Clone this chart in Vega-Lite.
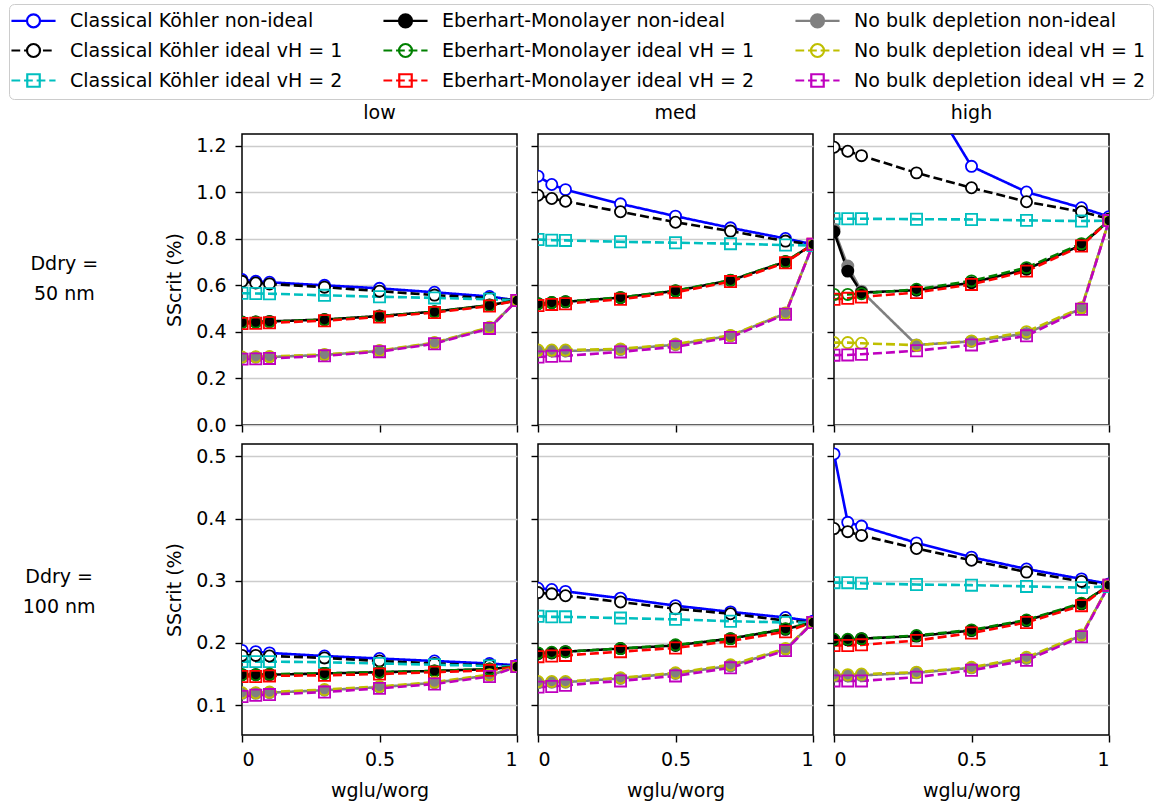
{
"$schema": "https://vega.github.io/schema/vega-lite/v6.json",
"padding": {"left": 8, "top": 3, "right": 2, "bottom": 2},
"background": "white",
"config": {
  "font": "DejaVu Sans",
  "view": {"stroke": "black", "strokeWidth": 1.5},
  "axis": {"labelFont": "DejaVu Sans", "labelFontSize": 19, "labelColor": "black", "titleFont": "DejaVu Sans", "titleFontSize": 19, "titleFontWeight": "normal", "titleColor": "black", "tickColor": "black", "tickSize": 7, "tickWidth": 1.4, "domain": false, "grid": false},
  "axisY": {"grid": true, "gridColor": "#cccccc", "gridWidth": 1.5, "labelPadding": 9, "titlePadding": 11},
  "axisX": {"labelPadding": 8, "titlePadding": 12, "labelFlush": true},
  "title": {"font": "DejaVu Sans", "fontWeight": "normal", "color": "black", "fontSize": 19},
  "legend": {"labelLimit": 600}
},
"datasets": {"pts": [
{"p":"low50","s":"a","x":0,"y":0.625},{"p":"low50","s":"a","x":0.05,"y":0.617},{"p":"low50","s":"a","x":0.1,"y":0.613},{"p":"low50","s":"a","x":0.3,"y":0.600},{"p":"low50","s":"a","x":0.5,"y":0.587},{"p":"low50","s":"a","x":0.7,"y":0.570},{"p":"low50","s":"a","x":0.9,"y":0.552},{"p":"low50","s":"a","x":1,"y":0.535},
{"p":"low50","s":"b","x":0,"y":0.617},{"p":"low50","s":"b","x":0.05,"y":0.610},{"p":"low50","s":"b","x":0.1,"y":0.606},{"p":"low50","s":"b","x":0.3,"y":0.592},{"p":"low50","s":"b","x":0.5,"y":0.575},{"p":"low50","s":"b","x":0.7,"y":0.558},{"p":"low50","s":"b","x":0.9,"y":0.545},{"p":"low50","s":"b","x":1,"y":0.535},
{"p":"low50","s":"c","x":0,"y":0.566},{"p":"low50","s":"c","x":0.05,"y":0.565},{"p":"low50","s":"c","x":0.1,"y":0.564},{"p":"low50","s":"c","x":0.3,"y":0.557},{"p":"low50","s":"c","x":0.5,"y":0.551},{"p":"low50","s":"c","x":0.7,"y":0.546},{"p":"low50","s":"c","x":0.9,"y":0.540},{"p":"low50","s":"c","x":1,"y":0.535},
{"p":"low50","s":"d","x":0,"y":0.290},{"p":"low50","s":"d","x":0.05,"y":0.291},{"p":"low50","s":"d","x":0.1,"y":0.292},{"p":"low50","s":"d","x":0.3,"y":0.301},{"p":"low50","s":"d","x":0.5,"y":0.318},{"p":"low50","s":"d","x":0.7,"y":0.352},{"p":"low50","s":"d","x":0.9,"y":0.418},{"p":"low50","s":"d","x":1,"y":0.535},
{"p":"low50","s":"e","x":0,"y":0.442},{"p":"low50","s":"e","x":0.05,"y":0.443},{"p":"low50","s":"e","x":0.1,"y":0.445},{"p":"low50","s":"e","x":0.3,"y":0.453},{"p":"low50","s":"e","x":0.5,"y":0.468},{"p":"low50","s":"e","x":0.7,"y":0.487},{"p":"low50","s":"e","x":0.9,"y":0.515},{"p":"low50","s":"e","x":1,"y":0.535},
{"p":"low50","s":"f","x":0,"y":0.441},{"p":"low50","s":"f","x":0.05,"y":0.442},{"p":"low50","s":"f","x":0.1,"y":0.444},{"p":"low50","s":"f","x":0.3,"y":0.452},{"p":"low50","s":"f","x":0.5,"y":0.467},{"p":"low50","s":"f","x":0.7,"y":0.486},{"p":"low50","s":"f","x":0.9,"y":0.514},{"p":"low50","s":"f","x":1,"y":0.535},
{"p":"low50","s":"g","x":0,"y":0.436},{"p":"low50","s":"g","x":0.05,"y":0.437},{"p":"low50","s":"g","x":0.1,"y":0.439},{"p":"low50","s":"g","x":0.3,"y":0.448},{"p":"low50","s":"g","x":0.5,"y":0.464},{"p":"low50","s":"g","x":0.7,"y":0.483},{"p":"low50","s":"g","x":0.9,"y":0.511},{"p":"low50","s":"g","x":1,"y":0.535},
{"p":"low50","s":"h","x":0,"y":0.292},{"p":"low50","s":"h","x":0.05,"y":0.293},{"p":"low50","s":"h","x":0.1,"y":0.294},{"p":"low50","s":"h","x":0.3,"y":0.303},{"p":"low50","s":"h","x":0.5,"y":0.320},{"p":"low50","s":"h","x":0.7,"y":0.354},{"p":"low50","s":"h","x":0.9,"y":0.420},{"p":"low50","s":"h","x":1,"y":0.535},
{"p":"low50","s":"i","x":0,"y":0.283},{"p":"low50","s":"i","x":0.05,"y":0.284},{"p":"low50","s":"i","x":0.1,"y":0.286},{"p":"low50","s":"i","x":0.3,"y":0.297},{"p":"low50","s":"i","x":0.5,"y":0.315},{"p":"low50","s":"i","x":0.7,"y":0.349},{"p":"low50","s":"i","x":0.9,"y":0.415},{"p":"low50","s":"i","x":1,"y":0.535},

{"p":"med50","s":"a","x":0,"y":1.069},{"p":"med50","s":"a","x":0.05,"y":1.033},{"p":"med50","s":"a","x":0.1,"y":1.011},{"p":"med50","s":"a","x":0.3,"y":0.950},{"p":"med50","s":"a","x":0.5,"y":0.897},{"p":"med50","s":"a","x":0.7,"y":0.847},{"p":"med50","s":"a","x":0.9,"y":0.801},{"p":"med50","s":"a","x":1,"y":0.776},
{"p":"med50","s":"b","x":0,"y":0.987},{"p":"med50","s":"b","x":0.05,"y":0.973},{"p":"med50","s":"b","x":0.1,"y":0.961},{"p":"med50","s":"b","x":0.3,"y":0.916},{"p":"med50","s":"b","x":0.5,"y":0.871},{"p":"med50","s":"b","x":0.7,"y":0.833},{"p":"med50","s":"b","x":0.9,"y":0.790},{"p":"med50","s":"b","x":1,"y":0.776},
{"p":"med50","s":"c","x":0,"y":0.797},{"p":"med50","s":"c","x":0.05,"y":0.794},{"p":"med50","s":"c","x":0.1,"y":0.793},{"p":"med50","s":"c","x":0.3,"y":0.787},{"p":"med50","s":"c","x":0.5,"y":0.783},{"p":"med50","s":"c","x":0.7,"y":0.779},{"p":"med50","s":"c","x":0.9,"y":0.773},{"p":"med50","s":"c","x":1,"y":0.771},
{"p":"med50","s":"d","x":0,"y":0.319},{"p":"med50","s":"d","x":0.05,"y":0.318},{"p":"med50","s":"d","x":0.1,"y":0.318},{"p":"med50","s":"d","x":0.3,"y":0.324},{"p":"med50","s":"d","x":0.5,"y":0.345},{"p":"med50","s":"d","x":0.7,"y":0.383},{"p":"med50","s":"d","x":0.9,"y":0.479},{"p":"med50","s":"d","x":1,"y":0.776},
{"p":"med50","s":"e","x":0,"y":0.521},{"p":"med50","s":"e","x":0.05,"y":0.526},{"p":"med50","s":"e","x":0.1,"y":0.529},{"p":"med50","s":"e","x":0.3,"y":0.547},{"p":"med50","s":"e","x":0.5,"y":0.576},{"p":"med50","s":"e","x":0.7,"y":0.621},{"p":"med50","s":"e","x":0.9,"y":0.701},{"p":"med50","s":"e","x":1,"y":0.776},
{"p":"med50","s":"f","x":0,"y":0.521},{"p":"med50","s":"f","x":0.05,"y":0.526},{"p":"med50","s":"f","x":0.1,"y":0.530},{"p":"med50","s":"f","x":0.3,"y":0.548},{"p":"med50","s":"f","x":0.5,"y":0.577},{"p":"med50","s":"f","x":0.7,"y":0.622},{"p":"med50","s":"f","x":0.9,"y":0.702},{"p":"med50","s":"f","x":1,"y":0.776},
{"p":"med50","s":"g","x":0,"y":0.513},{"p":"med50","s":"g","x":0.05,"y":0.518},{"p":"med50","s":"g","x":0.1,"y":0.521},{"p":"med50","s":"g","x":0.3,"y":0.540},{"p":"med50","s":"g","x":0.5,"y":0.570},{"p":"med50","s":"g","x":0.7,"y":0.616},{"p":"med50","s":"g","x":0.9,"y":0.697},{"p":"med50","s":"g","x":1,"y":0.776},
{"p":"med50","s":"h","x":0,"y":0.322},{"p":"med50","s":"h","x":0.05,"y":0.322},{"p":"med50","s":"h","x":0.1,"y":0.322},{"p":"med50","s":"h","x":0.3,"y":0.327},{"p":"med50","s":"h","x":0.5,"y":0.348},{"p":"med50","s":"h","x":0.7,"y":0.385},{"p":"med50","s":"h","x":0.9,"y":0.481},{"p":"med50","s":"h","x":1,"y":0.776},
{"p":"med50","s":"i","x":0,"y":0.292},{"p":"med50","s":"i","x":0.05,"y":0.295},{"p":"med50","s":"i","x":0.1,"y":0.297},{"p":"med50","s":"i","x":0.3,"y":0.314},{"p":"med50","s":"i","x":0.5,"y":0.336},{"p":"med50","s":"i","x":0.7,"y":0.376},{"p":"med50","s":"i","x":0.9,"y":0.476},{"p":"med50","s":"i","x":1,"y":0.776},

{"p":"high50","s":"a","x":0,"y":2.6},{"p":"high50","s":"a","x":0.05,"y":1.95},{"p":"high50","s":"a","x":0.1,"y":1.8},{"p":"high50","s":"a","x":0.3,"y":1.5},{"p":"high50","s":"a","x":0.5,"y":1.111},{"p":"high50","s":"a","x":0.7,"y":1.001},{"p":"high50","s":"a","x":0.9,"y":0.933},{"p":"high50","s":"a","x":1,"y":0.895},
{"p":"high50","s":"b","x":0,"y":1.193},{"p":"high50","s":"b","x":0.05,"y":1.176},{"p":"high50","s":"b","x":0.1,"y":1.157},{"p":"high50","s":"b","x":0.3,"y":1.083},{"p":"high50","s":"b","x":0.5,"y":1.019},{"p":"high50","s":"b","x":0.7,"y":0.959},{"p":"high50","s":"b","x":0.9,"y":0.916},{"p":"high50","s":"b","x":1,"y":0.885},
{"p":"high50","s":"c","x":0,"y":0.886},{"p":"high50","s":"c","x":0.05,"y":0.886},{"p":"high50","s":"c","x":0.1,"y":0.886},{"p":"high50","s":"c","x":0.3,"y":0.884},{"p":"high50","s":"c","x":0.5,"y":0.883},{"p":"high50","s":"c","x":0.7,"y":0.879},{"p":"high50","s":"c","x":0.9,"y":0.876},{"p":"high50","s":"c","x":1,"y":0.878},
{"p":"high50","s":"d","x":0,"y":0.84},{"p":"high50","s":"d","x":0.05,"y":0.683},{"p":"high50","s":"d","x":0.1,"y":0.575},{"p":"high50","s":"d","x":0.3,"y":0.344},{"p":"high50","s":"d","x":0.5,"y":0.359},{"p":"high50","s":"d","x":0.7,"y":0.393},{"p":"high50","s":"d","x":0.9,"y":0.501},{"p":"high50","s":"d","x":1,"y":0.878},
{"p":"high50","s":"e","x":0,"y":0.83},{"p":"high50","s":"e","x":0.05,"y":0.661},{"p":"high50","s":"e","x":0.1,"y":0.569},{"p":"high50","s":"e","x":0.3,"y":0.579},{"p":"high50","s":"e","x":0.5,"y":0.611},{"p":"high50","s":"e","x":0.7,"y":0.669},{"p":"high50","s":"e","x":0.9,"y":0.773},{"p":"high50","s":"e","x":1,"y":0.878},
{"p":"high50","s":"f","x":0,"y":0.561},{"p":"high50","s":"f","x":0.05,"y":0.561},{"p":"high50","s":"f","x":0.1,"y":0.564},{"p":"high50","s":"f","x":0.3,"y":0.583},{"p":"high50","s":"f","x":0.5,"y":0.619},{"p":"high50","s":"f","x":0.7,"y":0.676},{"p":"high50","s":"f","x":0.9,"y":0.779},{"p":"high50","s":"f","x":1,"y":0.878},
{"p":"high50","s":"g","x":0,"y":0.540},{"p":"high50","s":"g","x":0.05,"y":0.544},{"p":"high50","s":"g","x":0.1,"y":0.550},{"p":"high50","s":"g","x":0.3,"y":0.569},{"p":"high50","s":"g","x":0.5,"y":0.604},{"p":"high50","s":"g","x":0.7,"y":0.661},{"p":"high50","s":"g","x":0.9,"y":0.769},{"p":"high50","s":"g","x":1,"y":0.878},
{"p":"high50","s":"h","x":0,"y":0.354},{"p":"high50","s":"h","x":0.05,"y":0.354},{"p":"high50","s":"h","x":0.1,"y":0.351},{"p":"high50","s":"h","x":0.3,"y":0.343},{"p":"high50","s":"h","x":0.5,"y":0.361},{"p":"high50","s":"h","x":0.7,"y":0.401},{"p":"high50","s":"h","x":0.9,"y":0.504},{"p":"high50","s":"h","x":1,"y":0.878},
{"p":"high50","s":"i","x":0,"y":0.300},{"p":"high50","s":"i","x":0.05,"y":0.301},{"p":"high50","s":"i","x":0.1,"y":0.304},{"p":"high50","s":"i","x":0.3,"y":0.319},{"p":"high50","s":"i","x":0.5,"y":0.344},{"p":"high50","s":"i","x":0.7,"y":0.383},{"p":"high50","s":"i","x":0.9,"y":0.497},{"p":"high50","s":"i","x":1,"y":0.878},

{"p":"low100","s":"a","x":0,"y":0.188},{"p":"low100","s":"a","x":0.05,"y":0.186},{"p":"low100","s":"a","x":0.1,"y":0.184},{"p":"low100","s":"a","x":0.3,"y":0.179},{"p":"low100","s":"a","x":0.5,"y":0.175},{"p":"low100","s":"a","x":0.7,"y":0.171},{"p":"low100","s":"a","x":0.9,"y":0.167},{"p":"low100","s":"a","x":1,"y":0.164},
{"p":"low100","s":"b","x":0,"y":0.180},{"p":"low100","s":"b","x":0.05,"y":0.180},{"p":"low100","s":"b","x":0.1,"y":0.179},{"p":"low100","s":"b","x":0.3,"y":0.176},{"p":"low100","s":"b","x":0.5,"y":0.171},{"p":"low100","s":"b","x":0.7,"y":0.167},{"p":"low100","s":"b","x":0.9,"y":0.164},{"p":"low100","s":"b","x":1,"y":0.162},
{"p":"low100","s":"c","x":0,"y":0.170},{"p":"low100","s":"c","x":0.05,"y":0.170},{"p":"low100","s":"c","x":0.1,"y":0.170},{"p":"low100","s":"c","x":0.3,"y":0.169},{"p":"low100","s":"c","x":0.5,"y":0.167},{"p":"low100","s":"c","x":0.7,"y":0.165},{"p":"low100","s":"c","x":0.9,"y":0.163},{"p":"low100","s":"c","x":1,"y":0.162},
{"p":"low100","s":"d","x":0,"y":0.119},{"p":"low100","s":"d","x":0.05,"y":0.119},{"p":"low100","s":"d","x":0.1,"y":0.120},{"p":"low100","s":"d","x":0.3,"y":0.124},{"p":"low100","s":"d","x":0.5,"y":0.129},{"p":"low100","s":"d","x":0.7,"y":0.136},{"p":"low100","s":"d","x":0.9,"y":0.148},{"p":"low100","s":"d","x":1,"y":0.162},
{"p":"low100","s":"e","x":0,"y":0.149},{"p":"low100","s":"e","x":0.05,"y":0.149},{"p":"low100","s":"e","x":0.1,"y":0.149},{"p":"low100","s":"e","x":0.3,"y":0.151},{"p":"low100","s":"e","x":0.5,"y":0.153},{"p":"low100","s":"e","x":0.7,"y":0.155},{"p":"low100","s":"e","x":0.9,"y":0.158},{"p":"low100","s":"e","x":1,"y":0.162},
{"p":"low100","s":"f","x":0,"y":0.149},{"p":"low100","s":"f","x":0.05,"y":0.149},{"p":"low100","s":"f","x":0.1,"y":0.150},{"p":"low100","s":"f","x":0.3,"y":0.151},{"p":"low100","s":"f","x":0.5,"y":0.153},{"p":"low100","s":"f","x":0.7,"y":0.155},{"p":"low100","s":"f","x":0.9,"y":0.158},{"p":"low100","s":"f","x":1,"y":0.162},
{"p":"low100","s":"g","x":0,"y":0.146},{"p":"low100","s":"g","x":0.05,"y":0.146},{"p":"low100","s":"g","x":0.1,"y":0.147},{"p":"low100","s":"g","x":0.3,"y":0.148},{"p":"low100","s":"g","x":0.5,"y":0.150},{"p":"low100","s":"g","x":0.7,"y":0.153},{"p":"low100","s":"g","x":0.9,"y":0.156},{"p":"low100","s":"g","x":1,"y":0.162},
{"p":"low100","s":"h","x":0,"y":0.120},{"p":"low100","s":"h","x":0.05,"y":0.120},{"p":"low100","s":"h","x":0.1,"y":0.121},{"p":"low100","s":"h","x":0.3,"y":0.125},{"p":"low100","s":"h","x":0.5,"y":0.130},{"p":"low100","s":"h","x":0.7,"y":0.137},{"p":"low100","s":"h","x":0.9,"y":0.149},{"p":"low100","s":"h","x":1,"y":0.162},
{"p":"low100","s":"i","x":0,"y":0.114},{"p":"low100","s":"i","x":0.05,"y":0.116},{"p":"low100","s":"i","x":0.1,"y":0.117},{"p":"low100","s":"i","x":0.3,"y":0.121},{"p":"low100","s":"i","x":0.5,"y":0.127},{"p":"low100","s":"i","x":0.7,"y":0.134},{"p":"low100","s":"i","x":0.9,"y":0.146},{"p":"low100","s":"i","x":1,"y":0.162},

{"p":"med100","s":"a","x":0,"y":0.288},{"p":"med100","s":"a","x":0.05,"y":0.286},{"p":"med100","s":"a","x":0.1,"y":0.283},{"p":"med100","s":"a","x":0.3,"y":0.272},{"p":"med100","s":"a","x":0.5,"y":0.260},{"p":"med100","s":"a","x":0.7,"y":0.250},{"p":"med100","s":"a","x":0.9,"y":0.241},{"p":"med100","s":"a","x":1,"y":0.235},
{"p":"med100","s":"b","x":0,"y":0.281},{"p":"med100","s":"b","x":0.05,"y":0.279},{"p":"med100","s":"b","x":0.1,"y":0.276},{"p":"med100","s":"b","x":0.3,"y":0.266},{"p":"med100","s":"b","x":0.5,"y":0.255},{"p":"med100","s":"b","x":0.7,"y":0.247},{"p":"med100","s":"b","x":0.9,"y":0.236},{"p":"med100","s":"b","x":1,"y":0.233},
{"p":"med100","s":"c","x":0,"y":0.243},{"p":"med100","s":"c","x":0.05,"y":0.242},{"p":"med100","s":"c","x":0.1,"y":0.242},{"p":"med100","s":"c","x":0.3,"y":0.240},{"p":"med100","s":"c","x":0.5,"y":0.238},{"p":"med100","s":"c","x":0.7,"y":0.235},{"p":"med100","s":"c","x":0.9,"y":0.233},{"p":"med100","s":"c","x":1,"y":0.233},
{"p":"med100","s":"d","x":0,"y":0.136},{"p":"med100","s":"d","x":0.05,"y":0.137},{"p":"med100","s":"d","x":0.1,"y":0.137},{"p":"med100","s":"d","x":0.3,"y":0.143},{"p":"med100","s":"d","x":0.5,"y":0.151},{"p":"med100","s":"d","x":0.7,"y":0.163},{"p":"med100","s":"d","x":0.9,"y":0.190},{"p":"med100","s":"d","x":1,"y":0.233},
{"p":"med100","s":"e","x":0,"y":0.183},{"p":"med100","s":"e","x":0.05,"y":0.184},{"p":"med100","s":"e","x":0.1,"y":0.186},{"p":"med100","s":"e","x":0.3,"y":0.191},{"p":"med100","s":"e","x":0.5,"y":0.196},{"p":"med100","s":"e","x":0.7,"y":0.207},{"p":"med100","s":"e","x":0.9,"y":0.222},{"p":"med100","s":"e","x":1,"y":0.233},
{"p":"med100","s":"f","x":0,"y":0.184},{"p":"med100","s":"f","x":0.05,"y":0.185},{"p":"med100","s":"f","x":0.1,"y":0.186},{"p":"med100","s":"f","x":0.3,"y":0.191},{"p":"med100","s":"f","x":0.5,"y":0.197},{"p":"med100","s":"f","x":0.7,"y":0.207},{"p":"med100","s":"f","x":0.9,"y":0.223},{"p":"med100","s":"f","x":1,"y":0.233},
{"p":"med100","s":"g","x":0,"y":0.178},{"p":"med100","s":"g","x":0.05,"y":0.179},{"p":"med100","s":"g","x":0.1,"y":0.180},{"p":"med100","s":"g","x":0.3,"y":0.186},{"p":"med100","s":"g","x":0.5,"y":0.192},{"p":"med100","s":"g","x":0.7,"y":0.203},{"p":"med100","s":"g","x":0.9,"y":0.218},{"p":"med100","s":"g","x":1,"y":0.233},
{"p":"med100","s":"h","x":0,"y":0.138},{"p":"med100","s":"h","x":0.05,"y":0.138},{"p":"med100","s":"h","x":0.1,"y":0.138},{"p":"med100","s":"h","x":0.3,"y":0.144},{"p":"med100","s":"h","x":0.5,"y":0.152},{"p":"med100","s":"h","x":0.7,"y":0.165},{"p":"med100","s":"h","x":0.9,"y":0.191},{"p":"med100","s":"h","x":1,"y":0.233},
{"p":"med100","s":"i","x":0,"y":0.129},{"p":"med100","s":"i","x":0.05,"y":0.130},{"p":"med100","s":"i","x":0.1,"y":0.132},{"p":"med100","s":"i","x":0.3,"y":0.139},{"p":"med100","s":"i","x":0.5,"y":0.147},{"p":"med100","s":"i","x":0.7,"y":0.160},{"p":"med100","s":"i","x":0.9,"y":0.188},{"p":"med100","s":"i","x":1,"y":0.233},

{"p":"high100","s":"a","x":0,"y":0.504},{"p":"high100","s":"a","x":0.05,"y":0.394},{"p":"high100","s":"a","x":0.1,"y":0.388},{"p":"high100","s":"a","x":0.3,"y":0.361},{"p":"high100","s":"a","x":0.5,"y":0.338},{"p":"high100","s":"a","x":0.7,"y":0.319},{"p":"high100","s":"a","x":0.9,"y":0.303},{"p":"high100","s":"a","x":1,"y":0.295},
{"p":"high100","s":"b","x":0,"y":0.384},{"p":"high100","s":"b","x":0.05,"y":0.379},{"p":"high100","s":"b","x":0.1,"y":0.373},{"p":"high100","s":"b","x":0.3,"y":0.352},{"p":"high100","s":"b","x":0.5,"y":0.333},{"p":"high100","s":"b","x":0.7,"y":0.314},{"p":"high100","s":"b","x":0.9,"y":0.299},{"p":"high100","s":"b","x":1,"y":0.293},
{"p":"high100","s":"c","x":0,"y":0.297},{"p":"high100","s":"c","x":0.05,"y":0.297},{"p":"high100","s":"c","x":0.1,"y":0.296},{"p":"high100","s":"c","x":0.3,"y":0.294},{"p":"high100","s":"c","x":0.5,"y":0.293},{"p":"high100","s":"c","x":0.7,"y":0.291},{"p":"high100","s":"c","x":0.9,"y":0.289},{"p":"high100","s":"c","x":1,"y":0.291},
{"p":"high100","s":"d","x":0,"y":0.147},{"p":"high100","s":"d","x":0.05,"y":0.147},{"p":"high100","s":"d","x":0.1,"y":0.148},{"p":"high100","s":"d","x":0.3,"y":0.152},{"p":"high100","s":"d","x":0.5,"y":0.160},{"p":"high100","s":"d","x":0.7,"y":0.175},{"p":"high100","s":"d","x":0.9,"y":0.212},{"p":"high100","s":"d","x":1,"y":0.293},
{"p":"high100","s":"e","x":0,"y":0.205},{"p":"high100","s":"e","x":0.05,"y":0.205},{"p":"high100","s":"e","x":0.1,"y":0.207},{"p":"high100","s":"e","x":0.3,"y":0.211},{"p":"high100","s":"e","x":0.5,"y":0.220},{"p":"high100","s":"e","x":0.7,"y":0.236},{"p":"high100","s":"e","x":0.9,"y":0.263},{"p":"high100","s":"e","x":1,"y":0.293},
{"p":"high100","s":"f","x":0,"y":0.206},{"p":"high100","s":"f","x":0.05,"y":0.206},{"p":"high100","s":"f","x":0.1,"y":0.207},{"p":"high100","s":"f","x":0.3,"y":0.212},{"p":"high100","s":"f","x":0.5,"y":0.221},{"p":"high100","s":"f","x":0.7,"y":0.237},{"p":"high100","s":"f","x":0.9,"y":0.264},{"p":"high100","s":"f","x":1,"y":0.293},
{"p":"high100","s":"g","x":0,"y":0.196},{"p":"high100","s":"g","x":0.05,"y":0.196},{"p":"high100","s":"g","x":0.1,"y":0.197},{"p":"high100","s":"g","x":0.3,"y":0.204},{"p":"high100","s":"g","x":0.5,"y":0.216},{"p":"high100","s":"g","x":0.7,"y":0.233},{"p":"high100","s":"g","x":0.9,"y":0.260},{"p":"high100","s":"g","x":1,"y":0.293},
{"p":"high100","s":"h","x":0,"y":0.149},{"p":"high100","s":"h","x":0.05,"y":0.149},{"p":"high100","s":"h","x":0.1,"y":0.150},{"p":"high100","s":"h","x":0.3,"y":0.153},{"p":"high100","s":"h","x":0.5,"y":0.161},{"p":"high100","s":"h","x":0.7,"y":0.177},{"p":"high100","s":"h","x":0.9,"y":0.213},{"p":"high100","s":"h","x":1,"y":0.293},
{"p":"high100","s":"i","x":0,"y":0.139},{"p":"high100","s":"i","x":0.05,"y":0.139},{"p":"high100","s":"i","x":0.1,"y":0.139},{"p":"high100","s":"i","x":0.3,"y":0.145},{"p":"high100","s":"i","x":0.5,"y":0.156},{"p":"high100","s":"i","x":0.7,"y":0.172},{"p":"high100","s":"i","x":0.9,"y":0.210},{"p":"high100","s":"i","x":1,"y":0.293}
]},
"spacing": 7,
"vconcat": [
{
  "title": {"text": ["Ddry =", "50 nm"], "orient": "left", "angle": 0, "anchor": "middle", "align": "center", "baseline": "middle", "offset": 33, "dy": -6, "fontSize": 19, "lineHeight": 30},
  "spacing": 21, "bounds": "flush",
  "hconcat": [
    {"width": 275, "height": 291, "title": {"text": "low", "offset": 11},
     "data": {"name": "pts"}, "transform": [{"filter": "datum.p == 'low50'"}],
     "encoding": {
       "x": {"field": "x", "type": "quantitative", "scale": {"domain": [0, 1], "nice": false, "zero": false}, "axis": {"values": [0, 0.5, 1], "labels": false, "title": null}},
       "y": {"field": "y", "type": "quantitative", "scale": {"domain": [0, 1.25], "nice": false, "zero": false}, "axis": {"values": [0, 0.2, 0.4, 0.6, 0.8, 1.0, 1.2], "format": ".1f", "title": "SScrit (%)"}}
     },
     "layer": [
       {"mark": {"type": "line", "clip": true},
        "encoding": {
          "color": {"field": "s", "type": "nominal", "scale": {"domain": ["a","b","c","e","f","g","d","h","i"], "range": ["#0000ff","#000000","#00bfbf","#000000","#008000","#ff0000","#808080","#bfbf00","#bf00bf"]},
            "legend": {"title": null, "orient": "none", "legendX": -233, "legendY": -130, "columns": 3, "symbolSize": 196, "symbolStrokeWidth": 2, "labelFontSize": 19, "labelFont": "DejaVu Sans", "labelColor": "black", "labelOffset": 27, "symbolOffset": 8, "columnPadding": 36, "rowPadding": 7, "padding": 7, "strokeColor": "#cccccc", "fillColor": "white", "cornerRadius": 5, "labelLimit": 600,
              "labelExpr": "{'a':'Classical Köhler non-ideal','b':'Classical Köhler ideal vH = 1','c':'Classical Köhler ideal vH = 2','d':'No bulk depletion non-ideal','e':'Eberhart-Monolayer non-ideal','f':'Eberhart-Monolayer ideal vH = 1','g':'Eberhart-Monolayer ideal vH = 2','h':'No bulk depletion ideal vH = 1','i':'No bulk depletion ideal vH = 2'}[datum.value]",
              "encode": {"symbols": {"update": {
                "shape": {"signal": "{'a':'M-3.15,0H-0.93M0.93,0H3.15M0.93,0C0.93,0.51 0.51,0.93 0,0.93C-0.51,0.93 -0.93,0.51 -0.93,0C-0.93,-0.51 -0.51,-0.93 0,-0.93C0.51,-0.93 0.93,-0.51 0.93,0Z','b':'M-3.15,0H-1.9M-1.35,0H-0.93M1.35,0H2.6M3.15,0H3.15M0.93,0C0.93,0.51 0.51,0.93 0,0.93C-0.51,0.93 -0.93,0.51 -0.93,0C-0.93,-0.51 -0.51,-0.93 0,-0.93C0.51,-0.93 0.93,-0.51 0.93,0Z','c':'M-3.15,0H-1.9M-1.35,0H-0.1M0.45,0H1.7M2.25,0H3.15M-0.89,-0.89H0.89V0.89H-0.89Z','d':'M-3.15,0H3.15M0.93,0C0.93,0.51 0.51,0.93 0,0.93C-0.51,0.93 -0.93,0.51 -0.93,0C-0.93,-0.51 -0.51,-0.93 0,-0.93C0.51,-0.93 0.93,-0.51 0.93,0Z','e':'M-3.15,0H3.15M0.93,0C0.93,0.51 0.51,0.93 0,0.93C-0.51,0.93 -0.93,0.51 -0.93,0C-0.93,-0.51 -0.51,-0.93 0,-0.93C0.51,-0.93 0.93,-0.51 0.93,0Z','f':'M-3.15,0H-1.9M-1.35,0H-0.1M0.45,0H1.7M2.25,0H3.15M0.93,0C0.93,0.51 0.51,0.93 0,0.93C-0.51,0.93 -0.93,0.51 -0.93,0C-0.93,-0.51 -0.51,-0.93 0,-0.93C0.51,-0.93 0.93,-0.51 0.93,0Z','g':'M-3.15,0H-1.9M-1.35,0H-0.1M0.45,0H1.7M2.25,0H3.15M-0.89,-0.89H0.89V0.89H-0.89Z','h':'M-3.15,0H-1.9M-1.35,0H-0.1M0.45,0H1.7M2.25,0H3.15M0.93,0C0.93,0.51 0.51,0.93 0,0.93C-0.51,0.93 -0.93,0.51 -0.93,0C-0.93,-0.51 -0.51,-0.93 0,-0.93C0.51,-0.93 0.93,-0.51 0.93,0Z','i':'M-3.15,0H-1.9M-1.35,0H-0.1M0.45,0H1.7M2.25,0H3.15M-0.89,-0.89H0.89V0.89H-0.89Z'}[datum.value]"},
                "fill": {"signal": "{'a':'white','b':'white','c':'transparent','d':'#808080','e':'#000000','f':'transparent','g':'transparent','h':'transparent','i':'transparent'}[datum.value]"},
                "stroke": {"signal": "{'a':'#0000ff','b':'#000000','c':'#00bfbf','d':'#808080','e':'#000000','f':'#008000','g':'#ff0000','h':'#bfbf00','i':'#bf00bf'}[datum.value]"},
                "strokeWidth": {"value": 2.2},
                "opacity": {"value": 1}
              }}}
            }},
          "strokeDash": {"field": "s", "type": "nominal", "scale": {"domain": ["a","b","c","d","e","f","g","h","i"], "range": [[1,0],[9,4],[9,4],[1,0],[1,0],[9,4],[9,4],[9,4],[9,4]]}, "legend": null},
          "strokeWidth": {"field": "s", "type": "nominal", "scale": {"domain": ["a","b","c","d","e","f","g","h","i"], "range": [2.6,2.6,2.6,1.8,1.8,2.6,2.6,2.6,2.6]}, "legend": null}
        }},
       {"mark": {"type": "point", "clip": true, "filled": true, "size": 125, "strokeWidth": 1.8, "opacity": 1},
        "encoding": {
          "shape": {"field": "s", "type": "nominal", "scale": {"domain": ["a","b","c","d","e","f","g","h","i"], "range": ["circle","circle","square","circle","circle","circle","square","circle","square"]}, "legend": null},
          "stroke": {"field": "s", "type": "nominal", "scale": {"domain": ["a","b","c","d","e","f","g","h","i"], "range": ["#0000ff","#000000","#00bfbf","#808080","#000000","#008000","#ff0000","#bfbf00","#bf00bf"]}, "legend": null},
          "fill": {"field": "s", "type": "nominal", "scale": {"domain": ["a","b","c","d","e","f","g","h","i"], "range": ["white","white","transparent","#808080","#000000","transparent","transparent","transparent","transparent"]}, "legend": null},
          "order": {"field": "s", "sort": "ascending"}
        }}
     ]},
    {"width": 275, "height": 291, "title": {"text": "med", "offset": 11},
     "data": {"name": "pts"}, "transform": [{"filter": "datum.p == 'med50'"}],
     "encoding": {
       "x": {"field": "x", "type": "quantitative", "scale": {"domain": [0, 1], "nice": false, "zero": false}, "axis": {"values": [0, 0.5, 1], "labels": false, "title": null}},
       "y": {"field": "y", "type": "quantitative", "scale": {"domain": [0, 1.25], "nice": false, "zero": false}, "axis": {"values": [0, 0.2, 0.4, 0.6, 0.8, 1.0, 1.2], "labels": false, "title": null}}
     },
     "layer": [
       {"mark": {"type": "line", "clip": true},
        "encoding": {
          "color": {"field": "s", "type": "nominal", "scale": {"domain": ["a","b","c","e","f","g","d","h","i"], "range": ["#0000ff","#000000","#00bfbf","#000000","#008000","#ff0000","#808080","#bfbf00","#bf00bf"]}},
          "strokeDash": {"field": "s", "type": "nominal", "scale": {"domain": ["a","b","c","d","e","f","g","h","i"], "range": [[1,0],[9,4],[9,4],[1,0],[1,0],[9,4],[9,4],[9,4],[9,4]]}, "legend": null},
          "strokeWidth": {"field": "s", "type": "nominal", "scale": {"domain": ["a","b","c","d","e","f","g","h","i"], "range": [2.6,2.6,2.6,1.8,1.8,2.6,2.6,2.6,2.6]}, "legend": null}
        }},
       {"mark": {"type": "point", "clip": true, "filled": true, "size": 125, "strokeWidth": 1.8, "opacity": 1},
        "encoding": {
          "shape": {"field": "s", "type": "nominal", "scale": {"domain": ["a","b","c","d","e","f","g","h","i"], "range": ["circle","circle","square","circle","circle","circle","square","circle","square"]}, "legend": null},
          "stroke": {"field": "s", "type": "nominal", "scale": {"domain": ["a","b","c","d","e","f","g","h","i"], "range": ["#0000ff","#000000","#00bfbf","#808080","#000000","#008000","#ff0000","#bfbf00","#bf00bf"]}, "legend": null},
          "fill": {"field": "s", "type": "nominal", "scale": {"domain": ["a","b","c","d","e","f","g","h","i"], "range": ["white","white","transparent","#808080","#000000","transparent","transparent","transparent","transparent"]}, "legend": null},
          "order": {"field": "s", "sort": "ascending"}
        }}
     ]},
    {"width": 275, "height": 291, "title": {"text": "high", "offset": 11},
     "data": {"name": "pts"}, "transform": [{"filter": "datum.p == 'high50'"}],
     "encoding": {
       "x": {"field": "x", "type": "quantitative", "scale": {"domain": [0, 1], "nice": false, "zero": false}, "axis": {"values": [0, 0.5, 1], "labels": false, "title": null}},
       "y": {"field": "y", "type": "quantitative", "scale": {"domain": [0, 1.25], "nice": false, "zero": false}, "axis": {"values": [0, 0.2, 0.4, 0.6, 0.8, 1.0, 1.2], "labels": false, "title": null}}
     },
     "layer": [
       {"mark": {"type": "line", "clip": true},
        "encoding": {
          "color": {"field": "s", "type": "nominal", "scale": {"domain": ["a","b","c","e","f","g","d","h","i"], "range": ["#0000ff","#000000","#00bfbf","#000000","#008000","#ff0000","#808080","#bfbf00","#bf00bf"]}},
          "strokeDash": {"field": "s", "type": "nominal", "scale": {"domain": ["a","b","c","d","e","f","g","h","i"], "range": [[1,0],[9,4],[9,4],[1,0],[1,0],[9,4],[9,4],[9,4],[9,4]]}, "legend": null},
          "strokeWidth": {"field": "s", "type": "nominal", "scale": {"domain": ["a","b","c","d","e","f","g","h","i"], "range": [2.6,2.6,2.6,1.8,1.8,2.6,2.6,2.6,2.6]}, "legend": null}
        }},
       {"mark": {"type": "point", "clip": true, "filled": true, "size": 125, "strokeWidth": 1.8, "opacity": 1},
        "encoding": {
          "shape": {"field": "s", "type": "nominal", "scale": {"domain": ["a","b","c","d","e","f","g","h","i"], "range": ["circle","circle","square","circle","circle","circle","square","circle","square"]}, "legend": null},
          "stroke": {"field": "s", "type": "nominal", "scale": {"domain": ["a","b","c","d","e","f","g","h","i"], "range": ["#0000ff","#000000","#00bfbf","#808080","#000000","#008000","#ff0000","#bfbf00","#bf00bf"]}, "legend": null},
          "fill": {"field": "s", "type": "nominal", "scale": {"domain": ["a","b","c","d","e","f","g","h","i"], "range": ["white","white","transparent","#808080","#000000","transparent","transparent","transparent","transparent"]}, "legend": null},
          "order": {"field": "s", "sort": "ascending"}
        }}
     ]}
  ]
},
{
  "title": {"text": ["Ddry =", "100 nm"], "orient": "left", "angle": 0, "anchor": "middle", "align": "center", "baseline": "middle", "offset": 33, "dy": -45, "fontSize": 19, "lineHeight": 30},
  "spacing": 21, "bounds": "flush",
  "hconcat": [
    {"width": 275, "height": 291,
     "data": {"name": "pts"}, "transform": [{"filter": "datum.p == 'low100'"}],
     "encoding": {
       "x": {"field": "x", "type": "quantitative", "scale": {"domain": [0, 1], "nice": false, "zero": false}, "axis": {"values": [0, 0.5, 1], "format": "~g", "title": "wglu/worg"}},
       "y": {"field": "y", "type": "quantitative", "scale": {"domain": [0.052, 0.520], "nice": false, "zero": false}, "axis": {"values": [0.1, 0.2, 0.3, 0.4, 0.5], "format": ".1f", "title": "SScrit (%)"}}
     },
     "layer": [
       {"mark": {"type": "line", "clip": true},
        "encoding": {
          "color": {"field": "s", "type": "nominal", "scale": {"domain": ["a","b","c","e","f","g","d","h","i"], "range": ["#0000ff","#000000","#00bfbf","#000000","#008000","#ff0000","#808080","#bfbf00","#bf00bf"]}},
          "strokeDash": {"field": "s", "type": "nominal", "scale": {"domain": ["a","b","c","d","e","f","g","h","i"], "range": [[1,0],[9,4],[9,4],[1,0],[1,0],[9,4],[9,4],[9,4],[9,4]]}, "legend": null},
          "strokeWidth": {"field": "s", "type": "nominal", "scale": {"domain": ["a","b","c","d","e","f","g","h","i"], "range": [2.6,2.6,2.6,1.8,1.8,2.6,2.6,2.6,2.6]}, "legend": null}
        }},
       {"mark": {"type": "point", "clip": true, "filled": true, "size": 125, "strokeWidth": 1.8, "opacity": 1},
        "encoding": {
          "shape": {"field": "s", "type": "nominal", "scale": {"domain": ["a","b","c","d","e","f","g","h","i"], "range": ["circle","circle","square","circle","circle","circle","square","circle","square"]}, "legend": null},
          "stroke": {"field": "s", "type": "nominal", "scale": {"domain": ["a","b","c","d","e","f","g","h","i"], "range": ["#0000ff","#000000","#00bfbf","#808080","#000000","#008000","#ff0000","#bfbf00","#bf00bf"]}, "legend": null},
          "fill": {"field": "s", "type": "nominal", "scale": {"domain": ["a","b","c","d","e","f","g","h","i"], "range": ["white","white","transparent","#808080","#000000","transparent","transparent","transparent","transparent"]}, "legend": null},
          "order": {"field": "s", "sort": "ascending"}
        }}
     ]},
    {"width": 275, "height": 291,
     "data": {"name": "pts"}, "transform": [{"filter": "datum.p == 'med100'"}],
     "encoding": {
       "x": {"field": "x", "type": "quantitative", "scale": {"domain": [0, 1], "nice": false, "zero": false}, "axis": {"values": [0, 0.5, 1], "format": "~g", "title": "wglu/worg"}},
       "y": {"field": "y", "type": "quantitative", "scale": {"domain": [0.052, 0.520], "nice": false, "zero": false}, "axis": {"values": [0.1, 0.2, 0.3, 0.4, 0.5], "labels": false, "title": null}}
     },
     "layer": [
       {"mark": {"type": "line", "clip": true},
        "encoding": {
          "color": {"field": "s", "type": "nominal", "scale": {"domain": ["a","b","c","e","f","g","d","h","i"], "range": ["#0000ff","#000000","#00bfbf","#000000","#008000","#ff0000","#808080","#bfbf00","#bf00bf"]}},
          "strokeDash": {"field": "s", "type": "nominal", "scale": {"domain": ["a","b","c","d","e","f","g","h","i"], "range": [[1,0],[9,4],[9,4],[1,0],[1,0],[9,4],[9,4],[9,4],[9,4]]}, "legend": null},
          "strokeWidth": {"field": "s", "type": "nominal", "scale": {"domain": ["a","b","c","d","e","f","g","h","i"], "range": [2.6,2.6,2.6,1.8,1.8,2.6,2.6,2.6,2.6]}, "legend": null}
        }},
       {"mark": {"type": "point", "clip": true, "filled": true, "size": 125, "strokeWidth": 1.8, "opacity": 1},
        "encoding": {
          "shape": {"field": "s", "type": "nominal", "scale": {"domain": ["a","b","c","d","e","f","g","h","i"], "range": ["circle","circle","square","circle","circle","circle","square","circle","square"]}, "legend": null},
          "stroke": {"field": "s", "type": "nominal", "scale": {"domain": ["a","b","c","d","e","f","g","h","i"], "range": ["#0000ff","#000000","#00bfbf","#808080","#000000","#008000","#ff0000","#bfbf00","#bf00bf"]}, "legend": null},
          "fill": {"field": "s", "type": "nominal", "scale": {"domain": ["a","b","c","d","e","f","g","h","i"], "range": ["white","white","transparent","#808080","#000000","transparent","transparent","transparent","transparent"]}, "legend": null},
          "order": {"field": "s", "sort": "ascending"}
        }}
     ]},
    {"width": 275, "height": 291,
     "data": {"name": "pts"}, "transform": [{"filter": "datum.p == 'high100'"}],
     "encoding": {
       "x": {"field": "x", "type": "quantitative", "scale": {"domain": [0, 1], "nice": false, "zero": false}, "axis": {"values": [0, 0.5, 1], "format": "~g", "title": "wglu/worg"}},
       "y": {"field": "y", "type": "quantitative", "scale": {"domain": [0.052, 0.520], "nice": false, "zero": false}, "axis": {"values": [0.1, 0.2, 0.3, 0.4, 0.5], "labels": false, "title": null}}
     },
     "layer": [
       {"mark": {"type": "line", "clip": true},
        "encoding": {
          "color": {"field": "s", "type": "nominal", "scale": {"domain": ["a","b","c","e","f","g","d","h","i"], "range": ["#0000ff","#000000","#00bfbf","#000000","#008000","#ff0000","#808080","#bfbf00","#bf00bf"]}},
          "strokeDash": {"field": "s", "type": "nominal", "scale": {"domain": ["a","b","c","d","e","f","g","h","i"], "range": [[1,0],[9,4],[9,4],[1,0],[1,0],[9,4],[9,4],[9,4],[9,4]]}, "legend": null},
          "strokeWidth": {"field": "s", "type": "nominal", "scale": {"domain": ["a","b","c","d","e","f","g","h","i"], "range": [2.6,2.6,2.6,1.8,1.8,2.6,2.6,2.6,2.6]}, "legend": null}
        }},
       {"mark": {"type": "point", "clip": true, "filled": true, "size": 125, "strokeWidth": 1.8, "opacity": 1},
        "encoding": {
          "shape": {"field": "s", "type": "nominal", "scale": {"domain": ["a","b","c","d","e","f","g","h","i"], "range": ["circle","circle","square","circle","circle","circle","square","circle","square"]}, "legend": null},
          "stroke": {"field": "s", "type": "nominal", "scale": {"domain": ["a","b","c","d","e","f","g","h","i"], "range": ["#0000ff","#000000","#00bfbf","#808080","#000000","#008000","#ff0000","#bfbf00","#bf00bf"]}, "legend": null},
          "fill": {"field": "s", "type": "nominal", "scale": {"domain": ["a","b","c","d","e","f","g","h","i"], "range": ["white","white","transparent","#808080","#000000","transparent","transparent","transparent","transparent"]}, "legend": null},
          "order": {"field": "s", "sort": "ascending"}
        }}
     ]}
  ]
}
]
}
